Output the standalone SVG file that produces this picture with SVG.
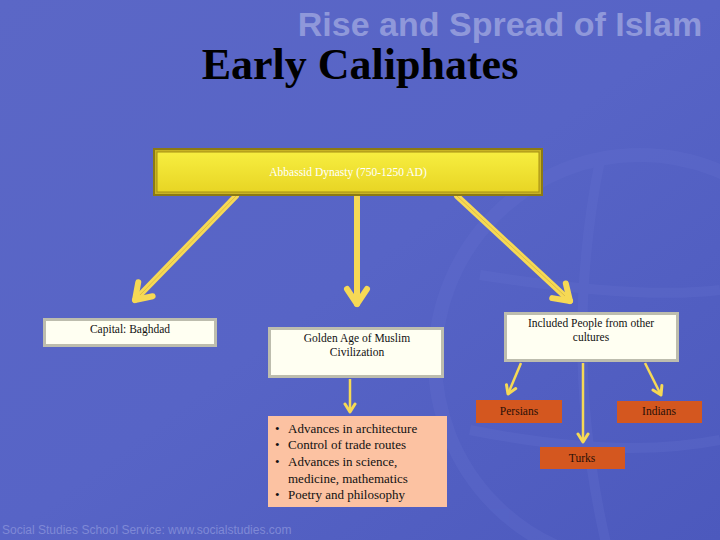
<svg xmlns="http://www.w3.org/2000/svg" width="720" height="540" viewBox="0 0 720 540">
<defs>
<linearGradient id="bg" x1="0" y1="0" x2="1" y2="1">
<stop offset="0" stop-color="#5b67c6"/>
<stop offset="0.5" stop-color="#5764c6"/>
<stop offset="1" stop-color="#4c59bd"/>
</linearGradient>
<linearGradient id="yel" x1="0" y1="0" x2="0" y2="1">
<stop offset="0" stop-color="#f7ee40"/>
<stop offset="1" stop-color="#e8d524"/>
</linearGradient>
<marker id="big" viewBox="-20 -14 24 28" refX="0" refY="0" markerWidth="24" markerHeight="28" markerUnits="userSpaceOnUse" orient="auto">
<path d="M-15,-10 L0,0 L-15,10" fill="none" stroke="#f6d955" stroke-width="6" stroke-linecap="round" stroke-linejoin="round"/>
</marker>
<marker id="small" viewBox="-12 -8 14 16" refX="0" refY="0" markerWidth="14" markerHeight="16" markerUnits="userSpaceOnUse" orient="auto">
<path d="M-8,-5 L0,0 L-8,5" fill="none" stroke="#f6d955" stroke-width="3" stroke-linecap="round" stroke-linejoin="round"/>
</marker>
</defs>
<style>
.serif{font-family:"Liberation Serif","Times New Roman",serif;}
.wbox{fill:#fffff2;stroke:#bdbdae;stroke-width:3;}
.obox{fill:#d4571f;}
.lbl{font-family:"Liberation Serif","Times New Roman",serif;font-size:11.5px;fill:#111;text-anchor:middle;}
.olbl{font-family:"Liberation Serif","Times New Roman",serif;font-size:11.5px;fill:#2a1008;text-anchor:middle;}
.big{fill:none;stroke:#f6d955;stroke-width:6;stroke-linecap:round;marker-end:url(#big);}
.core{fill:none;stroke:#c9a93a;stroke-width:0.8;opacity:0.7;}
.sm{fill:none;stroke:#f6d955;stroke-width:2.5;marker-end:url(#small);}
.bul{font-family:"Liberation Serif","Times New Roman",serif;font-size:13px;fill:#111;}
</style>
<rect width="720" height="540" fill="url(#bg)"/>
<g id="globe" fill="none" stroke="#6470cf" opacity="0.3">
<circle cx="640" cy="360" r="205" stroke-width="14"/>
<path d="M480,275 Q640,300 720,290" stroke-width="10"/>
<path d="M470,430 Q620,460 720,440" stroke-width="10"/>
<path d="M600,160 Q560,360 610,560" stroke-width="10"/>
</g>
<text x="500" y="36" font-family="Liberation Sans,Arial,sans-serif" font-weight="bold" font-size="34" fill="#8f98da" text-anchor="middle">Rise and Spread of Islam</text>
<text x="2" y="534" font-family="Liberation Sans,Arial,sans-serif" font-size="12" fill="#7f89d6">Social Studies School Service: www.socialstudies.com</text>
<text x="360" y="79" class="serif" font-weight="bold" font-size="44" fill="#000" text-anchor="middle">Early Caliphates</text>
<g id="connectors">
<path class="big" d="M236,196 L135,300"/>
<path class="core" d="M236,196 L140,295"/>
<path class="big" d="M357,196 L357,304"/>
<path class="big" d="M457,196 L570,301"/>
<path class="core" d="M457,196 L565,296"/>
<path class="sm" d="M350,379 L350,412"/>
<path class="sm" d="M521,363 L508,394"/>
<path class="sm" d="M583,363 L583,442"/>
<path class="sm" d="M645,363 L661,395"/>
</g>
<g id="abbassid">
<rect x="153" y="148" width="390" height="48" fill="#8c7a12"/>
<rect x="155" y="150" width="386" height="44" fill="#c9b424"/>
<rect x="157" y="152" width="382" height="40" fill="url(#yel)" stroke="#a58f14" stroke-width="1"/>
<text x="348" y="176" class="serif" font-size="11.5" fill="#ffffff" text-anchor="middle">Abbassid Dynasty (750-1250 AD)</text>
</g>
<g id="capital">
<rect class="wbox" x="44.5" y="319.5" width="171" height="26"/>
<text class="lbl" x="130" y="333">Capital: Baghdad</text>
</g>
<g id="golden">
<rect class="wbox" x="269.5" y="328.5" width="173" height="48"/>
<text class="lbl" x="357" y="342">Golden Age of Muslim</text>
<text class="lbl" x="357" y="356">Civilization</text>
</g>
<g id="included">
<rect class="wbox" x="505.5" y="313.5" width="172" height="47"/>
<text class="lbl" x="591" y="327">Included People from other</text>
<text class="lbl" x="591" y="341">cultures</text>
</g>
<g id="achievements">
<rect x="268" y="416" width="179" height="91" fill="#fcc2a2"/>
<text class="bul" x="275" y="433">•</text>
<text class="bul" x="288" y="433">Advances in architecture</text>
<text class="bul" x="275" y="449">•</text>
<text class="bul" x="288" y="449">Control of trade routes</text>
<text class="bul" x="275" y="466">•</text>
<text class="bul" x="288" y="466">Advances in science,</text>
<text class="bul" x="288" y="483">medicine, mathematics</text>
<text class="bul" x="275" y="499">•</text>
<text class="bul" x="288" y="499">Poetry and philosophy</text>
</g>
<g id="persians">
<rect class="obox" x="476" y="400" width="86" height="23"/>
<text class="olbl" x="519" y="415">Persians</text>
</g>
<g id="indians">
<rect class="obox" x="617" y="401" width="85" height="22"/>
<text class="olbl" x="659" y="415">Indians</text>
</g>
<g id="turks">
<rect class="obox" x="540" y="447" width="85" height="22"/>
<text class="olbl" x="582" y="462">Turks</text>
</g>
</svg>
